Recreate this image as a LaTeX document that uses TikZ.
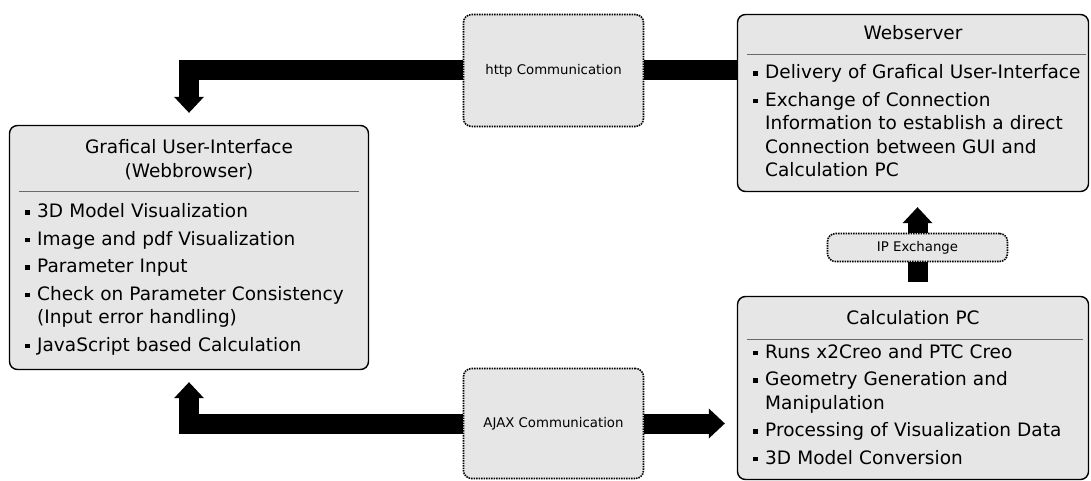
\documentclass[tikz,border=0pt]{standalone}
\usepackage{fontspec}
\setmainfont{DejaVu Sans}
\usepackage{xcolor}
\usetikzlibrary{arrows.meta,positioning,calc}

\definecolor{boxgray}{HTML}{E6E6E6}
\definecolor{rulegray}{HTML}{6A6A6A}
% bullet item with hanging indent
\newcommand{\itm}{\hangindent=12pt\hangafter=1\makebox[12pt][l]{\rule[3pt]{4.5pt}{4.5pt}}}

\begin{document}
\begin{tikzpicture}[x=1pt,y=-1pt,
  mainbox/.style={draw,line width=1.4pt,rounded corners=8pt,fill=boxgray},
  commbox/.style={draw,dash pattern=on 1.5pt off 1pt,line width=1.6pt,rounded corners=8pt,fill=boxgray,font=\fontsize{13.3}{16}\selectfont},
  headtext/.style={font=\fontsize{18.5}{24}\selectfont,align=center},
  listtext/.style={font=\fontsize{18.5}{23.5}\selectfont,text width=#1,align=left,inner sep=0pt,anchor=base west},
  divider/.style={draw=rulegray,line width=0.8pt},
  blockarrow/.style={line width=20pt,line join=miter,-{Triangle[length=16pt,width=30pt,line width=0pt]},shorten >=12pt},
  blockbar/.style={line width=20pt}]
\useasboundingbox (0,0) rectangle (1091,481);

% boxes
\node[mainbox,minimum width=359pt,minimum height=244pt] (gui) at (189,247.5) {};
\node[mainbox,minimum width=351pt,minimum height=177pt] (web) at (913,103) {};
\node[mainbox,minimum width=351pt,minimum height=183pt] (calc) at (913,388) {};
\node[commbox,minimum width=180pt,minimum height=112pt] (http) at (553.5,70.5) {http Communication};
\node[commbox,minimum width=180pt,minimum height=110pt] (ajax) at (553.5,423.5) {AJAX Communication};
\node[commbox,minimum width=180pt,minimum height=28pt] (ip) at (917.5,247.5) {IP Exchange};

% titles and dividers
\node[headtext] (guititle) at (189,160) {Grafical User-Interface\\(Webbrowser)};
\node[headtext] (webtitle) at (913,33) {Webserver};
\node[headtext] (calctitle) at (913,318) {Calculation PC};
\draw[divider] ($(gui.north west)+(10,67)$) -- ($(gui.north east)+(-10,67)$);
\draw[divider] ($(web.north west)+(10,41)$) -- ($(web.north east)+(-3,41)$);
\draw[divider] ($(calc.north west)+(10,44)$) -- ($(calc.north east)+(-6,44)$);

% item lists
\node[listtext=345pt] (guilist) at (25,217.7) {\setlength{\parskip}{4pt}%
\itm 3D Model Visualization\par
\itm Image and pdf Visualization\par
\itm Parameter Input\par
\itm Check on Parameter Consistency\newline (Input error handling)\par
\itm JavaScript based Calculation\par};
\node[listtext=336pt] (weblist) at (753,79) {\setlength{\parskip}{4pt}%
\itm Delivery of Grafical User-Interface\par
\itm Exchange of Connection\newline Information to establish a direct\newline Connection between GUI and\newline Calculation PC\par};
\node[listtext=336pt] (calclist) at (753,358) {\setlength{\parskip}{4pt}%
\itm Runs x2Creo and PTC Creo\par
\itm Geometry Generation and\newline Manipulation\par
\itm Processing of Visualization Data\par
\itm 3D Model Conversion\par};

% connectors
\draw[blockarrow] (http.west) -| (gui.north);
\draw[blockbar] (http.east) -- (http.east -| web.west);
\draw[blockarrow] (ajax.west) -| (gui.south);
\draw[blockarrow] (ajax.east) -- (ajax.east -| calc.west);
\draw[blockarrow,shorten >=15pt] (ip.north) -- (ip.north |- web.south);
\draw[blockbar] (ip.south) -- ([yshift=14pt]ip.south |- calc.north);
\end{tikzpicture}
\end{document}
